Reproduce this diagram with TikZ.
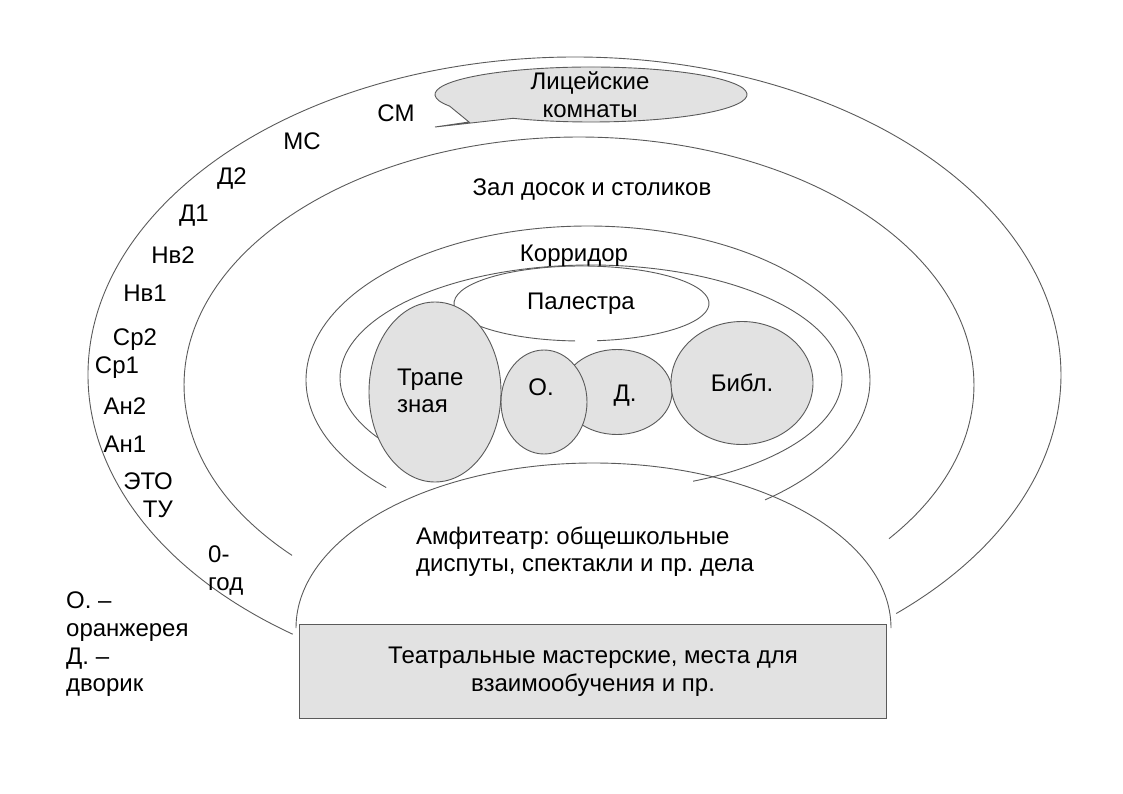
\documentclass[tikz,border=0pt]{standalone}
\usepackage{fontspec}
\setmainfont{Liberation Sans}
\usepackage{tikz}

\definecolor{linegray}{RGB}{90,90,90}
\definecolor{roomfill}{RGB}{226,226,226}
\frenchspacing

\begin{document}
\begin{tikzpicture}[x=1pt, y=-1pt,
		wall/.style={line width=0.9pt, linegray},
		room/.style={line width=0.9pt, draw=linegray, fill=roomfill},
		lbl/.style={inner sep=0pt, font=\fontsize{24}{27.6}\selectfont},
		lblleft/.style={lbl, align=left, anchor=west},
		lblmid/.style={lbl, align=center}]
				\useasboundingbox (0,0) rectangle (1123,794);
				\draw[wall] ([shift={(125.4:486.5 and 318)}]574.5,375) arc[start angle=125.4, end angle=408.6, x radius=486.5, y radius=318];
				\draw[wall] ([shift={(136.6:395 and 248)}]579,385) arc[start angle=136.6, end angle=398.3, x radius=395, y radius=248];
				\draw[wall] ([shift={(135.7:282 and 154)}]588,380) arc[start angle=135.7, end angle=411.1, x radius=282, y radius=154];
				\draw[wall] ([shift={(140:251 and 113)}]591,378) arc[start angle=140, end angle=426, x radius=251, y radius=113];
				\draw[wall] ([shift={(92.9:127.5 and 37.5)}]581.5,303.5) arc[start angle=92.9, end angle=443, x radius=127.5, y radius=37.5];
				\filldraw[room] (435,127) -- (469,122) -- ([shift={(155:156 and 27.5)}]591,94.5) arc[start angle=155, end angle=480, x radius=156, y radius=27.5] -- cycle;
				\filldraw[room] (435,392) ellipse[x radius=66, y radius=90];
				\filldraw[room] (617,392) ellipse[x radius=55, y radius=42.5];
				\filldraw[room] (544,402) ellipse[x radius=43, y radius=52];
				\filldraw[room] (742,383) ellipse[x radius=71, y radius=61.5];
				\draw[wall] (296,628) arc[start angle=180, end angle=360, x radius=297.5, y radius=165];
				\filldraw[room] (299,624) rectangle (886,718);
				\node[lblmid] (lycee) at (590,94.5) {Лицейские\\комнаты};
				\node[lbl] (sm) at (396,113) {СМ};
				\node[lbl] (ms) at (302,141) {МС};
				\node[lbl] (d2) at (232,179) {Д2};
				\node[lbl] (d1) at (194,216) {Д1};
				\node[lbl] (nv2) at (173,255) {Нв2};
				\node[lbl] (nv1) at (145,293) {Нв1};
				\node[lbl] (sr2) at (135,340) {Ср2};
				\node[lbl] (sr1) at (117,368) {Ср1};
				\node[lbl] (an2) at (125,406) {Ан2};
				\node[lbl] (an1) at (125,444) {Ан1};
				\node[lbl, align=right, anchor=east] (etotu) at (173,495.5) {ЭТО\\ТУ};
				\node[lblleft] (zero) at (208,570.5) {0-\\год};
				\node[lblleft] (legend) at (66,644.5) {О. –\\оранжерея\\Д. –\\дворик};
				\node[lbl] (hall) at (592,190) {Зал досок и столиков};
				\node[lbl] (corr) at (574,256) {Корридор};
				\node[lbl] (pal) at (581,304) {Палестра};
				\node[lblleft] (trap) at (397,391) {Трапе\\зная};
				\node[lbl] (oran) at (541,387) {О.};
				\node[lbl] (yard) at (625,396) {Д.};
				\node[lbl] (lib) at (742,383) {Библ.};
				\node[lblleft] (amph) at (416,551.5) {Амфитеатр: общешкольные\\диспуты, спектакли и пр. дела};
				\node[lblmid] (work) at (593,671.5) {Театральные мастерские, места для\\взаимообучения и пр.};
				\end{tikzpicture}
\end{document}
